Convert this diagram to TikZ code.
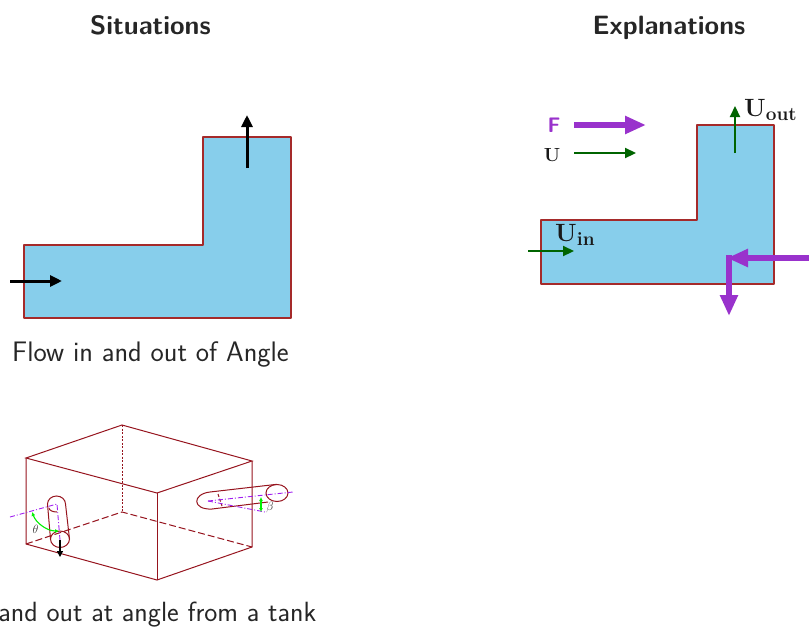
\documentclass[tikz,border=0pt]{standalone}
\usetikzlibrary{arrows.meta}
\definecolor{wall}{RGB}{165,42,42}
\definecolor{tankc}{RGB}{150,20,30}
\definecolor{flow}{RGB}{135,206,235}
\definecolor{force}{RGB}{153,50,204}
\definecolor{vel}{RGB}{0,100,0}
\definecolor{axisc}{RGB}{160,32,240}
\definecolor{angc}{RGB}{0,240,0}
\newcommand{\lblsub}[1]{\raisebox{-4pt}{\fontsize{19}{22}\selectfont\bfseries #1}}
\tikzset{
  duct/.style={draw=wall,fill=flow,line width=1.8pt,line join=round},
  blackarrow/.style={draw=black,line width=3pt,-{Triangle[length=12pt,width=11pt]}},
  forcearrow/.style={draw=force,line width=6pt,-{Triangle[length=21pt,width=17pt]}},
  velarrow/.style={draw=vel,line width=2.2pt,-{Triangle[length=11pt,width=10pt]}},
  tank/.style={draw=tankc,line width=1pt},
  axisline/.style={draw=axisc,line width=0.9pt,dash pattern=on 5pt off 2pt on 1pt off 2pt},
  angarc/.style={draw=angc,line width=1.1pt,{Latex[length=4pt,width=4pt]}-{Latex[length=4pt,width=4pt]}},
  title/.style={font=\fontsize{26.5}{30}\selectfont\sffamily\bfseries,text=black!85,anchor=base,inner sep=0pt},
  caption/.style={font=\fontsize{28.2}{32}\selectfont\sffamily,text=black!85,inner sep=0pt},
  mathlbl/.style={font=\fontsize{25}{30}\selectfont\bfseries,text=black!90,anchor=base west,inner sep=0pt},
  small/.style={font=\fontsize{13}{15}\selectfont\itshape,text=black!80}
}
\begin{document}
\begin{tikzpicture}[x=1pt,y=-1pt]
\useasboundingbox (0,0) rectangle (809,635);
% titles
\node[title] (t1) at (150.5,34.5) {Situations};
\node[title] (t2) at (669,34.5) {Explanations};
% left duct
\draw[duct] (24,245) -- (203,245) -- (203,137) -- (291,137) -- (291,318) -- (24,318) -- cycle;
\coordinate (a1) at (10,281); \coordinate (a2) at (62,281);
\coordinate (a3) at (247,168); \coordinate (a4) at (247,115);
\draw[blackarrow] (a1) -- (a2);
\draw[blackarrow] (a3) -- (a4);
\node[caption,anchor=base] (c1) at (150.5,361) {Flow in and out of Angle};
% right duct
\draw[duct] (541,220) -- (697,220) -- (697,125) -- (774,125) -- (774,284) -- (541,284) -- cycle;
\coordinate (f1) at (574,125); \coordinate (f2) at (646,125);
\coordinate (u1) at (574,153); \coordinate (u2) at (636,153);
\coordinate (o1) at (735,153); \coordinate (o2) at (735,106);
\coordinate (i1) at (528,251); \coordinate (i2) at (574,251);
\coordinate (p1) at (809,258); \coordinate (p2) at (727,258);
\coordinate (q1) at (729,255); \coordinate (q2) at (729,316);
\draw[forcearrow] (f1) -- (f2);
\draw[velarrow] (u1) -- (u2);
\draw[velarrow] (o1) -- (o2);
\draw[velarrow] (i1) -- (i2);
\draw[forcearrow] (q1) -- (q2);
\draw[forcearrow] (p1) -- (p2);
\node[font=\fontsize{21}{24}\selectfont\sffamily\bfseries,text=force] (lf) at (554,125.5) {F};
\node[font=\fontsize{19}{22}\selectfont\bfseries,text=black!90] (lu) at (552,155.5) {U};
\node[mathlbl] (lo) at (744,116.5) {U\lblsub{out}};
\node[mathlbl] (li) at (555,241) {U\lblsub{in}};
% tank
\draw[tank] (26,458) -- (122,425) -- (252,461) -- (157,493) -- cycle;
\draw[tank] (26,458) -- (26,544) -- (157,580) -- (252,547) -- (252,461);
\draw[tank] (157,493) -- (157,580);
\draw[tank,dash pattern=on 2pt off 1.5pt] (122,425) -- (122,512);
\draw[tank,dash pattern=on 7pt off 3pt] (26,544) -- (122,512) -- (252,547);
% left pipe
\draw[tank] (47.5,504) arc[start angle=180,end angle=360,x radius=9,y radius=8] -- (69.5,539) arc[start angle=0,end angle=180,x radius=9.5,y radius=8.5] -- cycle;
\draw[tank] (50.5,539) arc[start angle=180,end angle=360,x radius=9.5,y radius=8];
\draw[tank] (49,508) arc[start angle=180,end angle=90,x radius=8,y radius=4];
\draw[axisline] (10,517) -- (57,504) -- (60,540);
\coordinate (b1) at (60,540); \coordinate (b2) at (60,557);
\draw[draw=black,line width=1.2pt,-{Triangle[length=6pt,width=6pt]}] (b1) -- (b2);
\draw[angarc] (32,512) .. controls (36,523) and (47,531) .. (59,531);
\node[small] (th) at (35.5,529.5) {$\theta$};
% right pipe
\draw[tank] (210,492) -- (277,484.3);
\draw[tank] (212,509) -- (268,502);
\draw[tank] (210,492) .. controls (192,494) and (192,510) .. (212,509);
\draw[tank] (277,484.5) arc[start angle=270,end angle=630,x radius=11,y radius=8.5];
\draw[tank,dash pattern=on 3pt off 2pt] (218,494) -- (222,506);
\draw[axisline] (208,501) -- (293,492);
\draw[axisline] (208,501) -- (265,512);
\draw[angarc] (261,497) -- (261,512);
\node[small] (be) at (270,507) {$\beta$};
\node[caption,font=\fontsize{27.8}{32}\selectfont\sffamily,anchor=base east] (c2) at (316.5,621.5) {and out at angle from a tank};
\end{tikzpicture}
\end{document}
